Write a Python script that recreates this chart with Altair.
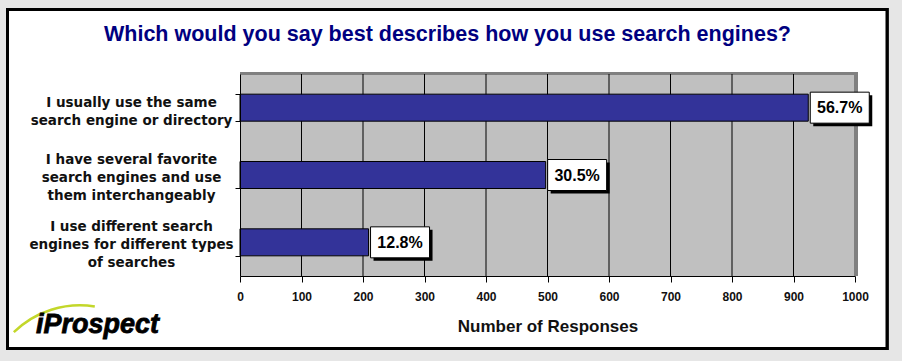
import altair as alt
import pandas as pd

# ---- data ----
categories = [
    "I usually use the same|search engine or directory",
    "I have several favorite|search engines and use|them interchangeably",
    "I use different search|engines for different types|of searches",
]
responses = [924, 497, 209]
pct_labels = ["56.7%", "30.5%", "12.8%"]
tick_values = [0, 100, 200, 300, 400, 500, 600, 700, 800, 900, 1000]
grid_values = [100, 200, 300, 400, 500, 600, 700, 800, 900]

title_text = "Which would you say best describes how you use search engines?"
x_title = "Number of Responses"

df = pd.DataFrame({"cat": categories, "count": responses, "pct": pct_labels})
grid_df = pd.DataFrame({"tick": grid_values})

W, H = 615, 202
LEFT, TOP = 240, 74
FONT = "Liberation Sans"

xscale = alt.Scale(domain=[0, 1000], nice=False, zero=True)
yscale = alt.Scale(domain=categories, paddingInner=0.6, paddingOuter=0.3)

# decorative frame (white panel with black border)
frame = alt.Chart(df).mark_rect(fill="white", stroke="black", strokeWidth=3).encode(
    x=alt.value(7.5 - LEFT), x2=alt.value(887 - LEFT),
    y=alt.value(9.5 - TOP), y2=alt.value(348.5 - TOP),
)

plot_bg = alt.Chart(df).mark_rect(fill="#c0c0c0").encode(
    x=alt.value(0), x2=alt.value(W), y=alt.value(0), y2=alt.value(H)
)
shadow_top = alt.Chart(df).mark_rect(fill="#808080").encode(
    x=alt.value(0), x2=alt.value(W + 3), y=alt.value(-2), y2=alt.value(1)
)
shadow_right = alt.Chart(df).mark_rect(fill="#808080").encode(
    x=alt.value(W - 1), x2=alt.value(W + 3), y=alt.value(-2), y2=alt.value(H)
)

grid = alt.Chart(grid_df).mark_rule(color="black", strokeWidth=1).encode(
    x=alt.X("tick:Q", scale=xscale, title=x_title)
)

bars = alt.Chart(df).mark_bar(
    color="#333399", stroke="black", strokeWidth=1, size=27
).encode(
    x=alt.X(
        "count:Q", scale=xscale, title=x_title,
        axis=alt.Axis(
            values=tick_values, grid=False, tickSize=6, tickColor="black",
            domainColor="black", domainWidth=1, labelFont=FONT, labelFontSize=12,
            labelFontWeight="bold", labelColor="#111", labelPadding=9,
            labelBaseline="top", format="d", labelFlush=False, labelOverlap=False,
            titleFont=FONT, titleFontSize=17, titleFontWeight="bold",
            titleColor="#111", titleY=55, titleBaseline="alphabetic",
            zindex=1,
        ),
    ),
    y=alt.Y(
        "cat:N", scale=yscale, sort=categories, title=None,
        axis=alt.Axis(
            tickBand="extent", tickSize=5, tickColor="black", domainColor="black",
            labelExpr="split(datum.label, '|')", labelFont="DejaVu Sans",
            labelFontSize=13.5, labelFontWeight="bold", labelColor="#111",
            labelAlign="center", labelBaseline="middle", labelPadding=104,
            labelLineHeight=18,
            labelOffset={
                "condition": {"test": "length(split(datum.value, '|')) == 3", "value": -15.5},
                "value": -5.5,
            },
            labelLimit=400, zindex=1,
        ),
    ),
)

box_shadow = alt.Chart(df).mark_bar(color="black", size=31, xOffset=5, x2Offset=64, yOffset=3).encode(
    x=alt.X("count:Q", scale=xscale, title=x_title),
    x2="count:Q",
    y=alt.Y("cat:N", scale=yscale, sort=categories, title=None),
)
box = alt.Chart(df).mark_bar(fill="white", stroke="black", strokeWidth=1, size=31, xOffset=2, x2Offset=61).encode(
    x=alt.X("count:Q", scale=xscale, title=x_title),
    x2="count:Q",
    y=alt.Y("cat:N", scale=yscale, sort=categories, title=None),
)
box_text = alt.Chart(df).mark_text(
    font=FONT, fontSize=16, fontWeight="bold", color="black",
    align="center", baseline="middle", dx=31.5, dy=0.5,
).encode(
    x=alt.X("count:Q", scale=xscale, title=x_title),
    y=alt.Y("cat:N", scale=yscale, sort=categories, title=None),
    text="pct:N",
)

title = alt.Chart(pd.DataFrame({"t": [title_text]})).mark_text(
    font=FONT, fontSize=21.5, fontWeight="bold", color="#000080",
    align="center", baseline="alphabetic",
).encode(x=alt.value(447.5 - LEFT), y=alt.value(41 - TOP), text="t:N")

logo_text = alt.Chart(pd.DataFrame({"t": ["iProspect"]})).mark_text(
    font=FONT, fontSize=27, fontWeight="bold", fontStyle="italic", color="black",
    align="left", baseline="alphabetic", stroke="black", strokeWidth=0.8,
).encode(x=alt.value(36 - LEFT), y=alt.value(333 - TOP), text="t:N")

swoosh = alt.Chart(pd.DataFrame({"t": ["logo"]})).mark_arc(
    theta=5.51, theta2=6.44, radius=96, radius2=93.5, color="#c3d72a",
).encode(x=alt.value(80 - LEFT), y=alt.value(400 - TOP))

chart = alt.layer(
    frame, plot_bg, shadow_top, shadow_right, grid, bars,
    box_shadow, box, box_text, title, swoosh, logo_text,
).properties(
    width=W, height=H, autosize="none",
    padding={"left": LEFT, "top": TOP, "right": 902 - LEFT - W, "bottom": 361 - TOP - H},
).configure(background="#e6e6e6").configure_view(stroke=None)

chart.save("out.html", embed_options={"renderer": "svg", "actions": False})
